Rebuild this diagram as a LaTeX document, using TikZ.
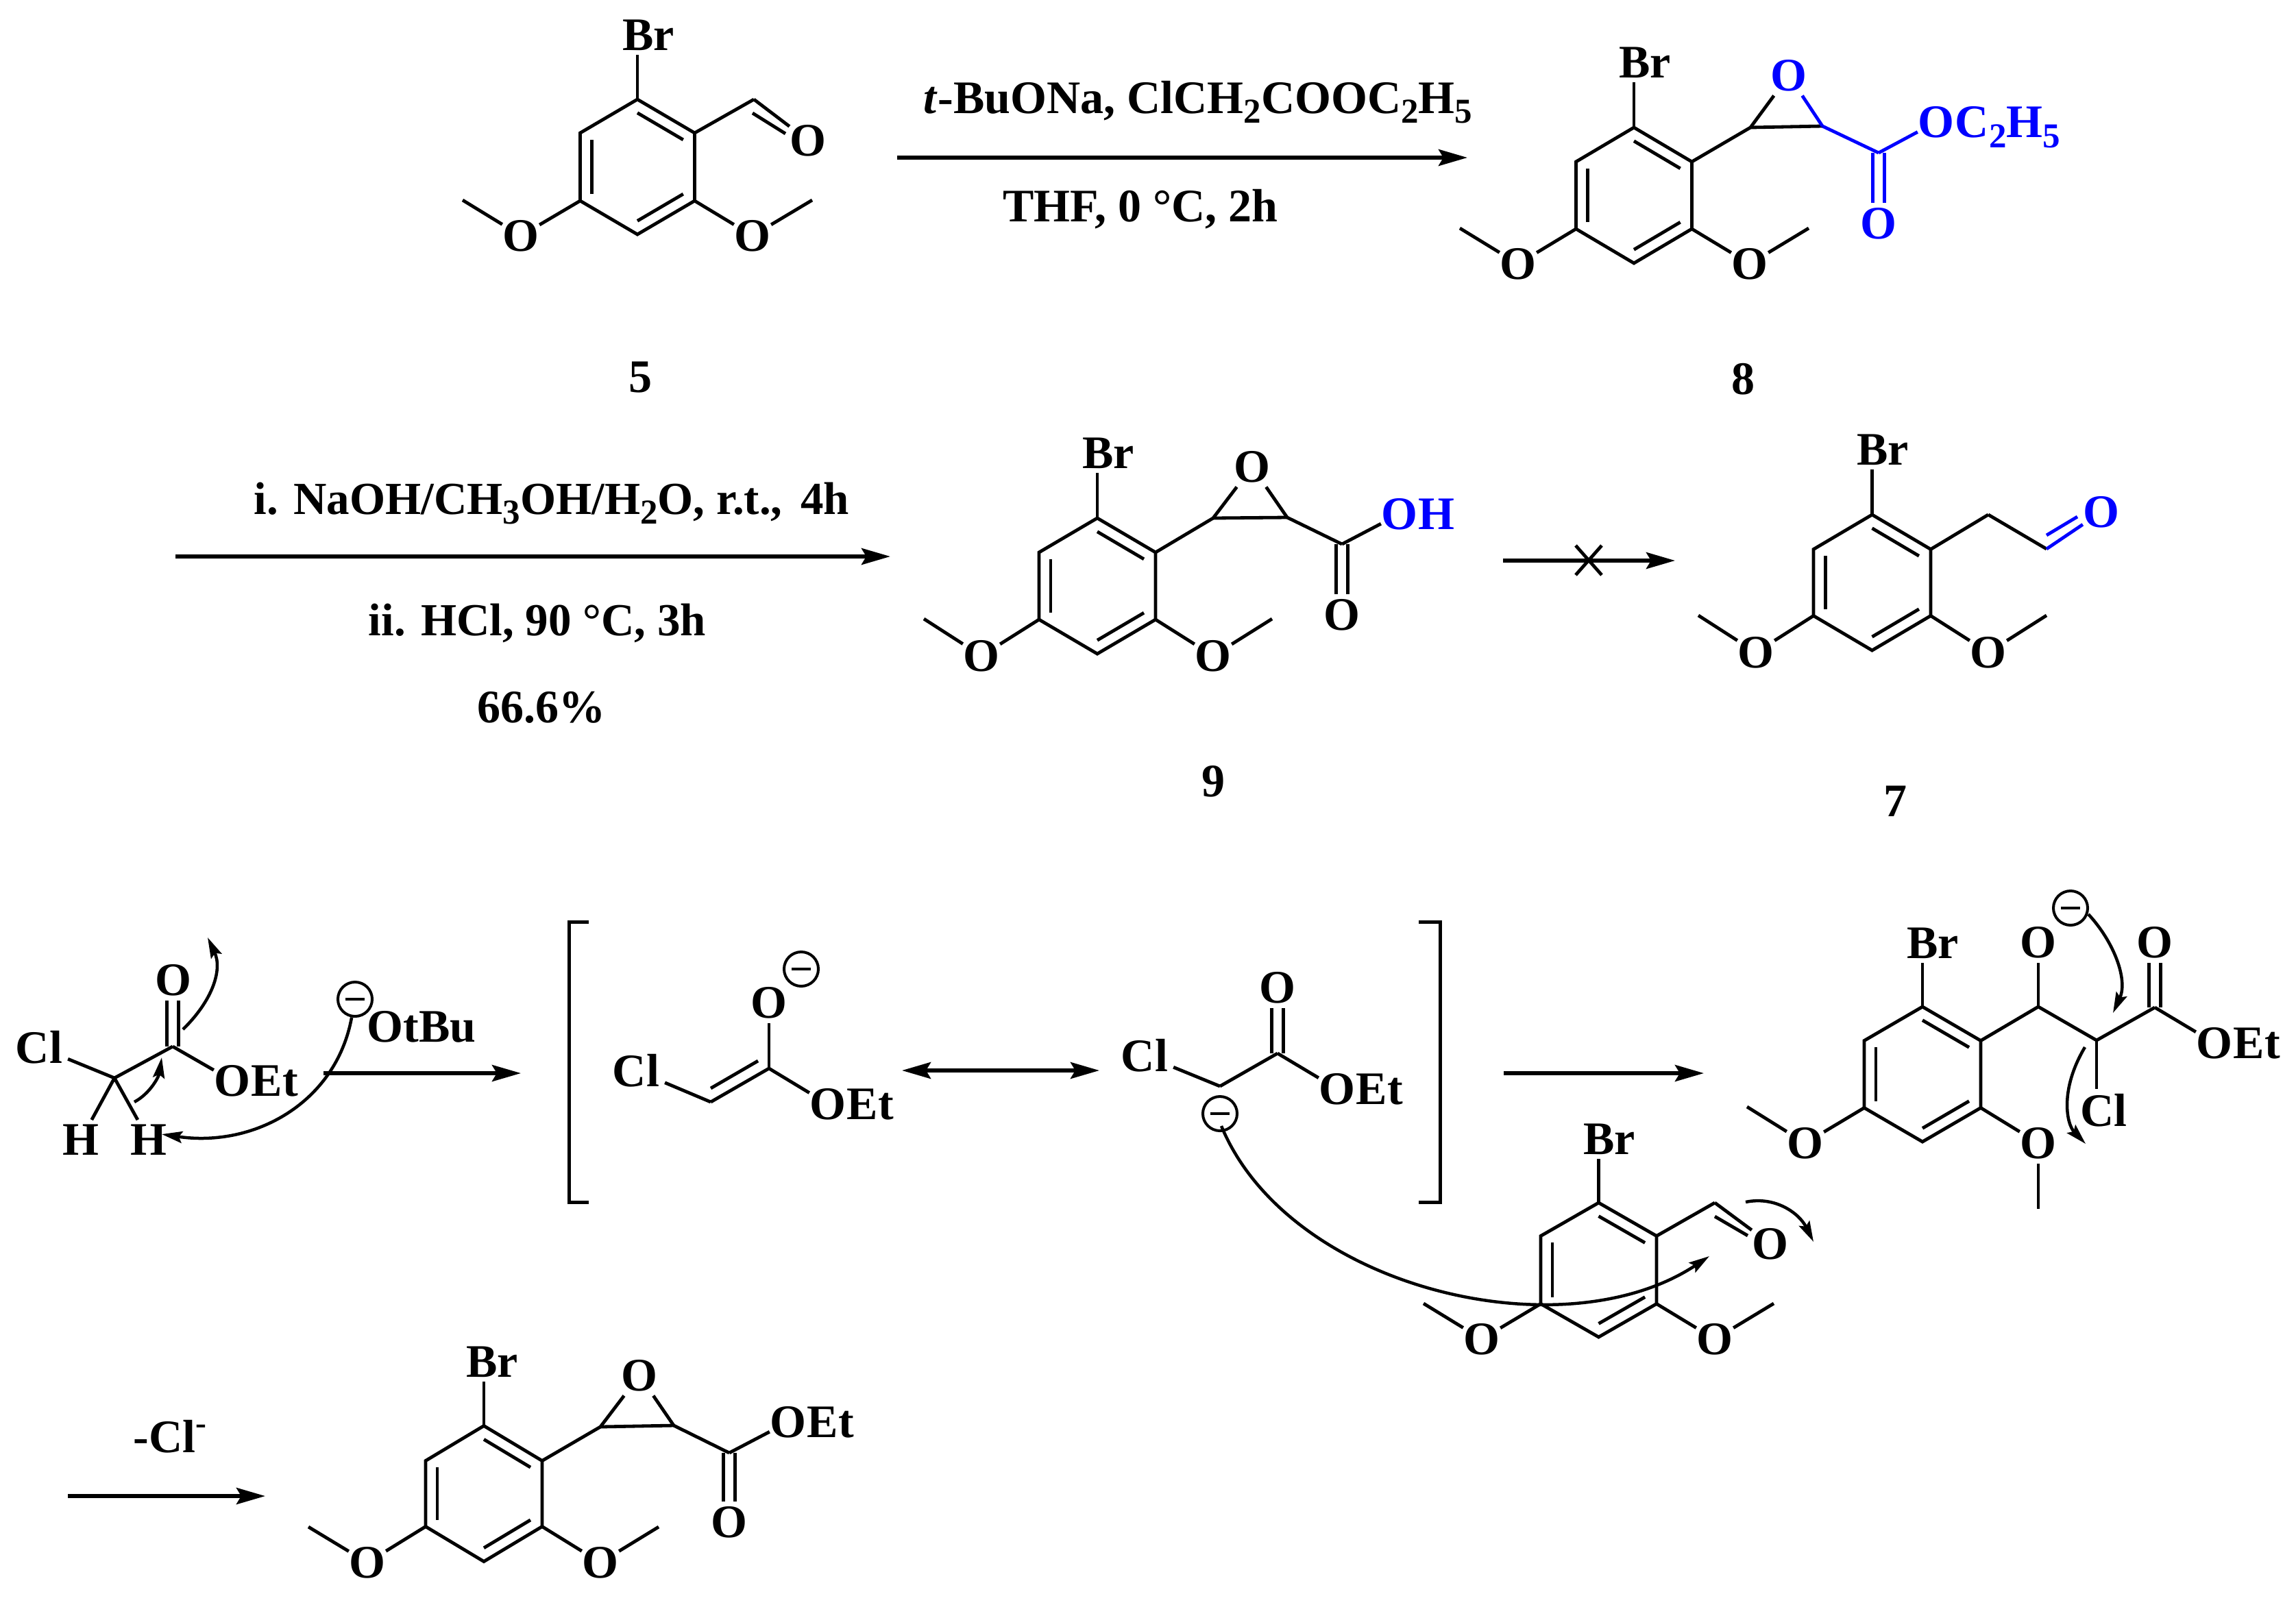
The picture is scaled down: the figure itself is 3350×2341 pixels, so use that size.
\documentclass[tikz,border=0pt]{standalone}
\usepackage{fontspec}
\setmainfont{Liberation Serif}
\usetikzlibrary{arrows.meta,calc}
\definecolor{chemblue}{RGB}{0,0,255}
\newcommand{\lowsub}[1]{\raisebox{-0.22em}{\fontsize{14.5pt}{14.5pt}\selectfont #1}}
\tikzset{
  every node/.style={font=\fontsize{19.35pt}{23pt}\selectfont\bfseries},
  bond/.style={line width=0.048cm,line join=miter,line cap=butt},
  atom/.style={inner xsep=0pt,inner ysep=0.06cm,anchor=center},
  txt/.style={inner sep=0pt,anchor=base},
  smalltxt/.style={inner sep=0pt,anchor=base,font=\fontsize{19.05pt}{23pt}\selectfont\bfseries},
  rxn/.style={line width=0.055cm,-{Stealth[length=0.42cm,width=0.24cm,inset=0.07cm]}},
  rxnboth/.style={line width=0.055cm,{Stealth[length=0.42cm,width=0.24cm,inset=0.07cm]}-{Stealth[length=0.42cm,width=0.24cm,inset=0.07cm]}},
  curl/.style={line width=0.045cm,-{Stealth[length=0.3cm,width=0.17cm,inset=0.05cm]}},
  brk/.style={line width=0.05cm,line join=miter},
  negc/.style={circle,draw,line width=0.04cm,minimum size=0.5cm,inner sep=0pt},
  negbar/.style={line width=0.045cm},
  blue/.style={color=chemblue,text=chemblue}
}
% ring: prefix, cx, cy, half width, half height, half side
\newcommand{\aryl}[6]{%
  \coordinate (#1c) at (#2,#3);
  \coordinate (#1a) at (#2,#3-#5);
  \coordinate (#1b) at (#2+#4,#3-#6);
  \coordinate (#1d) at (#2+#4,#3+#6);
  \coordinate (#1e) at (#2,#3+#5);
  \coordinate (#1f) at (#2-#4,#3+#6);
  \coordinate (#1g) at (#2-#4,#3-#6);
  \draw[bond] (#1a)--(#1b)--(#1d)--(#1e)--(#1f)--(#1g)--cycle;
  \draw[bond] ($(#1a)!.2!(#1c)$)--($(#1b)!.2!(#1c)$);
  \draw[bond] ($(#1d)!.2!(#1c)$)--($(#1e)!.2!(#1c)$);
  \draw[bond] ($(#1f)!.2!(#1c)$)--($(#1g)!.2!(#1c)$);
}
% ring substituents: prefix, Br x,y, left O x,y, left CH3 x,y, right O x,y
\newcommand{\subst}[9]{%
  \node[atom] (#1br) at (#2,#3) {Br};
  \draw[bond] (#1a) -- (#1a |- #1br.south);
  \node[atom] (#1ol) at (#4,#5) {O};
  \coordinate (#1ml) at (#6,#7);
  \draw[bond] (#1f) -- (#1ol);
  \draw[bond] (#1ol) -- (#1ml);
  \node[atom] (#1or) at (#8,#9) {O};
  \draw[bond] (#1d) -- (#1or);
}
% O plus the rest of the group
\newcommand{\grp}[5][]{%
  \node[atom,#1] (#2) at (#3,#4) {O};
  \node[anchor=base west,inner sep=0pt,#1] (#2r) at (#2.base east) {#5};
}
% vertical C=O: colour style, carbon, oxygen, anchor
\newcommand{\vdbl}[4][]{%
  \draw[bond,#1] ([xshift=-0.085cm]#2) -- ([xshift=-0.085cm]#2 |- #3.#4);
  \draw[bond,#1] ([xshift=0.085cm]#2) -- ([xshift=0.085cm]#2 |- #3.#4);
}
\newcommand{\negcharge}[3]{%
  \node[negc] (#1) at (#2,#3) {};
  \draw[negbar] ([xshift=-0.14cm]#1.center) -- ([xshift=0.14cm]#1.center);
}
\begin{document}
\begin{tikzpicture}[x=0.01cm,y=-0.01cm]
\fill[white] (0,0) rectangle (3350,2341);
\useasboundingbox (0,0) rectangle (3350,2341);

%% compound 5
\aryl{A}{930}{243.5}{83.5}{98.5}{49.5}
\subst{A}{946}{51}{760}{344}{675}{292}{1098}{344}
\coordinate (Amr) at (1185,292);
\draw[bond] (Aor) -- (Amr);
\coordinate (Ach) at (1100,145);
\node[atom] (Ao) at (1179,205) {O};
\coordinate (Ai1) at (1098,165);
\coordinate (Ai2) at (1146,195);
\draw[bond] (Ab) -- (Ach);
\draw[bond] (Ach) -- (Ao);
\draw[bond] (Ai1) -- (Ai2);
\node[txt] (n5) at (935,572) {5};

%% arrow 1
\coordinate (r1s) at (1309,230);
\coordinate (r1e) at (2141,230);
\draw[rxn] (r1s) -- (r1e);
\node[txt] (t1a) at (1748,165) {\textit{t}-BuONa, ClCH\lowsub{2}COOC\lowsub{2}H\lowsub{5}};
\node[txt] (t1b) at (1664,323) {THF, 0 °C, 2h};

%% compound 8
\aryl{B}{2384}{285}{84.5}{99}{49}
\subst{B}{2400}{91}{2215}{385}{2130}{333}{2553}{385}
\coordinate (Bmr) at (2639,333);
\draw[bond] (Bor) -- (Bmr);
\coordinate (Be1) at (2554,186);
\coordinate (Be2) at (2659,184);
\node[atom,blue] (Beo) at (2610,110) {O};
\draw[bond] (Bb) -- (Be1);
\draw[bond] (Be1) -- (Be2);
\draw[bond] (Be1) -- (Beo);
\draw[bond,blue] (Be2) -- (Beo);
\coordinate (Bk) at (2741,223);
\draw[bond,blue] (Be2) -- (Bk);
\grp[blue]{Bes}{2825}{178}{C\lowsub{2}H\lowsub{5}}
\draw[bond,blue] (Bk) -- (Bes);
\node[atom,blue] (Bko) at (2741,326) {O};
\vdbl[blue]{Bk}{Bko}{north}
\node[txt] (n8) at (2543,575) {8};

%% arrow 2
\coordinate (r2s) at (256,812);
\coordinate (r2e) at (1299,812);
\draw[rxn] (r2s) -- (r2e);
\node[smalltxt] (t2a) at (805,750) {i. NaOH/CH\lowsub{3}OH/H\lowsub{2}O, r.t.,\hspace{0.4em}4h};
\node[smalltxt] (t2b) at (784,927) {ii. HCl, 90 °C, 3h};
\node[txt] (t2c) at (790,1054) {66.6\%};

%% compound 9
\aryl{C}{1601}{855}{85}{99}{49}
\subst{C}{1617}{661}{1432}{957}{1348}{903}{1770}{957}
\coordinate (Cmr) at (1856,903);
\draw[bond] (Cor) -- (Cmr);
\coordinate (Ce1) at (1770,756);
\coordinate (Ce2) at (1878,755);
\node[atom] (Ceo) at (1827,681) {O};
\draw[bond] (Cb) -- (Ce1);
\draw[bond] (Ce1) -- (Ce2);
\draw[bond] (Ce1) -- (Ceo);
\draw[bond] (Ce2) -- (Ceo);
\coordinate (Ck) at (1958,794);
\draw[bond] (Ce2) -- (Ck);
\grp[blue]{Coh}{2042}{750}{H}
\draw[bond] (Ck) -- (Coh);
\node[atom] (Cko) at (1958,897) {O};
\vdbl{Ck}{Cko}{north}
\node[txt] (n9) at (1770,1162) {9};

%% blocked arrow
\coordinate (r3s) at (2193,818);
\coordinate (r3e) at (2444,818);
\draw[rxn] (r3s) -- (r3e);
\coordinate (x1) at (2299,796);
\coordinate (x2) at (2337,839);
\coordinate (x3) at (2337,796);
\coordinate (x4) at (2299,839);
\draw[bond] (x1) -- (x2);
\draw[bond] (x3) -- (x4);

%% compound 7
\aryl{D}{2731.5}{850}{85.5}{99}{48.5}
\subst{D}{2747}{656}{2562}{952}{2478}{898}{2901}{952}
\coordinate (Dmr) at (2986,898);
\draw[bond] (Dor) -- (Dmr);
\coordinate (Dch2) at (2901,751);
\coordinate (Dch) at (2986,801);
\node[atom,blue] (Do) at (3066,747) {O};
\coordinate (Di1) at (2986,781);
\coordinate (Di2) at (3031,754);
\draw[bond] (Db) -- (Dch2);
\draw[bond] (Dch2) -- (Dch);
\draw[bond,blue] (Dch) -- (Do);
\draw[bond,blue] (Di1) -- (Di2);
\node[txt] (n7) at (2765,1191) {7};

%% chloroacetate
\node[atom] (Ecl) at (57,1528) {Cl};
\coordinate (Ec) at (167,1573);
\coordinate (Ek) at (252,1527);
\draw[bond,shorten >=0.08cm] (Ec) -- (Ecl);
\draw[bond] (Ec) -- (Ek);
\node[atom] (Eko) at (253,1430) {O};
\vdbl{Ek}{Eko}{south}
\grp{Eoe}{339}{1577}{Et}
\draw[bond] (Ek) -- (Eoe);
\node[atom] (Eh1) at (118,1663) {H};
\node[atom] (Eh2) at (217,1663) {H};
\draw[bond] (Ec) -- (Eh1);
\draw[bond] (Ec) -- (Eh2);
% electron-pushing arrows
\coordinate (E1s) at (267,1502);
\coordinate (E1t) at (303,1368);
\draw[curl] (E1s) .. controls (310,1460) and (325,1415) .. (E1t);
\coordinate (E2s) at (196,1608);
\coordinate (E2t) at (236,1543);
\draw[curl] (E2s) .. controls (220,1595) and (232,1570) .. (E2t);
\negcharge{Eneg}{518}{1458}
\node[txt] (Eotbu) at (615,1520) {OtBu};
\coordinate (E3t) at (236,1655);
\draw[curl] (Eneg) .. controls (490,1610) and (370,1675) .. (E3t);
% arrow 4
\coordinate (r4s) at (472,1566);
\coordinate (r4e) at (760,1566);
\draw[rxn] (r4s) -- (r4e);

%% brackets
\coordinate (bl1) at (859,1345);
\coordinate (bl2) at (830,1345);
\coordinate (bl3) at (830,1754);
\coordinate (bl4) at (859,1754);
\draw[brk] (bl1) -- (bl2) -- (bl3) -- (bl4);
\coordinate (br1) at (2070,1345);
\coordinate (br2) at (2101,1345);
\coordinate (br3) at (2101,1754);
\coordinate (br4) at (2070,1754);
\draw[brk] (br1) -- (br2) -- (br3) -- (br4);

%% enolate
\node[atom] (Fcl) at (928,1562) {Cl};
\coordinate (Fch) at (1037,1608);
\coordinate (Fc) at (1122,1559);
\coordinate (Fi1) at (1037,1588);
\coordinate (Fi2) at (1106,1548);
\draw[bond,shorten >=0.08cm] (Fch) -- (Fcl);
\draw[bond] (Fch) -- (Fc);
\draw[bond] (Fi1) -- (Fi2);
\node[atom] (Fo) at (1122,1463) {O};
\draw[bond] (Fc) -- (Fo);
\grp{Foe}{1208}{1611}{Et}
\draw[bond] (Fc) -- (Foe);
\negcharge{Fneg}{1169}{1414}
% resonance arrow
\coordinate (r5s) at (1316,1562);
\coordinate (r5e) at (1604,1562);
\draw[rxnboth] (r5s) -- (r5e);

%% carbanion
\node[atom] (Gcl) at (1670,1540) {Cl};
\coordinate (Gch) at (1780,1585);
\coordinate (Gk) at (1864,1537);
\draw[bond,shorten >=0.08cm] (Gch) -- (Gcl);
\draw[bond] (Gch) -- (Gk);
\node[atom] (Gko) at (1864,1441) {O};
\vdbl{Gk}{Gko}{south}
\grp{Goe}{1951}{1589}{Et}
\draw[bond] (Gk) -- (Goe);
\negcharge{Gneg}{1780}{1625}
% arrow 6
\coordinate (r6s) at (2194,1566);
\coordinate (r6e) at (2486,1566);
\draw[rxn] (r6s) -- (r6e);

%% lower aldehyde
\aryl{H}{2332.5}{1853}{84.5}{98}{49.5}
\subst{H}{2348}{1662}{2162}{1954}{2077}{1902}{2502}{1954}
\coordinate (Hmr) at (2588,1902);
\draw[bond] (Hor) -- (Hmr);
\coordinate (Hch) at (2502,1755);
\node[atom] (Ho) at (2583,1815) {O};
\coordinate (Hi1) at (2502,1775);
\coordinate (Hi2) at (2550,1803);
\draw[bond] (Hb) -- (Hch);
\draw[bond] (Hch) -- (Ho);
\draw[bond] (Hi1) -- (Hi2);
\coordinate (H1s) at (2547,1754);
\coordinate (H1t) at (2646,1812);
\draw[curl] (H1s) .. controls (2590,1745) and (2625,1770) .. (H1t);
\coordinate (G1s) at (1782,1643);
\coordinate (G1t) at (2494,1833);
\draw[curl] (G1s) .. controls (1880,1880) and (2280,1975) .. (G1t);

%% alkoxide intermediate
\aryl{K}{2805}{1567.5}{85}{98.5}{49}
\subst{K}{2820}{1376}{2634}{1668}{2549}{1615}{2974}{1668}
\coordinate (Kmr) at (2974,1764);
\draw[bond] (Kor) -- (Kmr);
\coordinate (Kch) at (2974,1469);
\coordinate (Kcc) at (3059,1518);
\coordinate (Kk) at (3144,1470);
\node[atom] (Ko) at (2974,1375) {O};
\draw[bond] (Kb) -- (Kch);
\draw[bond] (Kch) -- (Ko);
\draw[bond] (Kch) -- (Kcc);
\draw[bond] (Kcc) -- (Kk);
\node[atom] (Kcl) at (3069,1620) {Cl};
\draw[bond] (Kcc) -- (Kcc |- Kcl.north);
\node[atom] (Kko) at (3144,1375) {O};
\vdbl{Kk}{Kko}{south}
\grp{Koe}{3231}{1522}{Et}
\draw[bond] (Kk) -- (Koe);
\negcharge{Kneg}{3021}{1325}
\coordinate (K1s) at (3047,1334);
\coordinate (K1t) at (3083,1478);
\draw[curl] (K1s) .. controls (3085,1375) and (3105,1430) .. (K1t);
\coordinate (K2s) at (3042,1528);
\coordinate (K2t) at (3043,1669);
\draw[curl] (K2s) .. controls (3005,1590) and (3015,1640) .. (K2t);

%% last arrow
\coordinate (r7s) at (99,2183);
\coordinate (r7e) at (387,2183);
\draw[rxn] (r7s) -- (r7e);
\node[txt] (t7) at (249,2119) {-Cl\textsuperscript{-}};

%% epoxide product
\aryl{M}{706}{2179.5}{85}{99}{48}
\subst{M}{718}{1987}{536}{2280}{450}{2228}{876}{2280}
\coordinate (Mmr) at (961,2228);
\draw[bond] (Mor) -- (Mmr);
\coordinate (Me1) at (876,2082);
\coordinate (Me2) at (983,2080);
\node[atom] (Meo) at (933,2007) {O};
\draw[bond] (Mb) -- (Me1);
\draw[bond] (Me1) -- (Me2);
\draw[bond] (Me1) -- (Meo);
\draw[bond] (Me2) -- (Meo);
\coordinate (Mk) at (1064,2120);
\draw[bond] (Me2) -- (Mk);
\grp{Moe}{1150}{2075}{Et}
\draw[bond] (Mk) -- (Moe);
\node[atom] (Mko) at (1064,2221) {O};
\vdbl{Mk}{Mko}{north}
\end{tikzpicture}
\end{document}
